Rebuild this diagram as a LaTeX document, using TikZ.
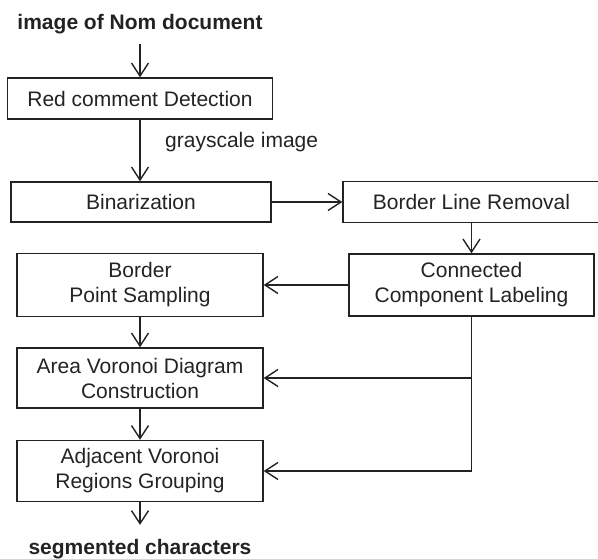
\documentclass[tikz,border=0pt]{standalone}
\usepackage{fontspec}
\setmainfont{Liberation Sans}
\usepackage{tikz}
\usetikzlibrary{arrows.meta}
\definecolor{ink}{RGB}{35,35,35}
\tikzset{
	stage/.style={draw=ink, line width=1.4pt, text=ink, align=center, inner sep=0pt, font=\fontsize{21}{25}\selectfont},
	iotext/.style={text=ink, inner sep=0pt, font=\fontsize{21}{25}\selectfont},
	link/.style={draw=ink, line width=1.4pt},
	flow/.style={link, -{Straight Barb[length=13pt,width=17pt,line width=1.4pt]}}
}
\begin{document}
\begin{tikzpicture}[x=1pt, y=-1pt]
		\useasboundingbox (0,0) rectangle (598,559);
		% left column
		\node (title) [iotext, anchor=base] at (140,30) {\bfseries image of Nom document};
		\node (detect) [stage, minimum width=265pt, minimum height=41pt] at (140,98.5) {Red comment Detection};
		\node (gray) [iotext, anchor=base west] at (165,148) {grayscale image};
		\node (binar) [stage, minimum width=260pt, minimum height=40pt] at (141,202) {Binarization};
		\node (sampling) [stage, minimum width=246pt, minimum height=63pt] at (140,285) {Border\\Point Sampling};
		\node (voronoi) [stage, minimum width=246pt, minimum height=60pt] at (140,378) {Area Voronoi Diagram\\Construction};
		\node (grouping) [stage, minimum width=246pt, minimum height=61pt] at (140,471) {Adjacent Voronoi\\Regions Grouping};
		\node (result) [iotext, anchor=base] at (140,554) {\bfseries segmented characters};
		% right column
		\node (border) [stage, minimum width=257pt, minimum height=41pt] at (471.5,202) {Border Line Removal};
		\node (ccl) [stage, minimum width=245pt, minimum height=62pt] at (471.5,285) {Connected\\Component Labeling};
		
		\draw [flow, shorten <=9.6pt] (title) -- (detect);
		\draw [flow] (detect) -- (detect |- binar.north);
		\draw [flow] (binar) -- (border);
		\draw [flow] (border) -- (ccl);
		\draw [flow] (ccl) -- (sampling);
		\draw [flow] (sampling) -- (voronoi);
		\draw [flow] (voronoi) -- (grouping);
		\draw [flow, shorten >=13.7pt] (grouping) -- (result);
		\draw [flow] (ccl.south) |- (grouping.east);
		\draw [flow] (ccl.south |- voronoi.east) -- (voronoi.east);
		%\draw [flow] (ccl.south) |- (voronoi.east);
	\end{tikzpicture}
\end{document}
